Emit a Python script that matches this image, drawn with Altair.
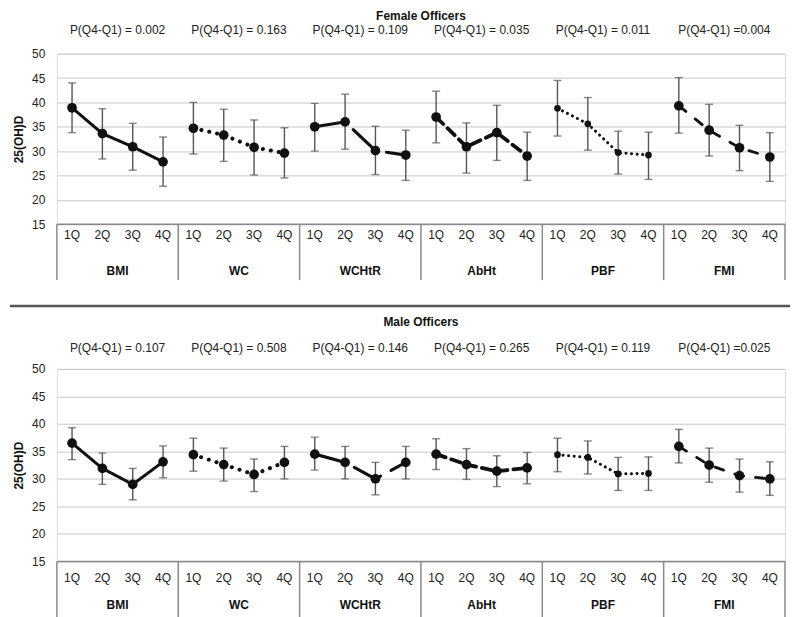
import altair as alt
import pandas as pd

groups = ["BMI", "WC", "WCHtR", "AbHt", "PBF", "FMI"]
quarters = ["1Q", "2Q", "3Q", "4Q"]

female_mean = [38.9, 33.6, 30.9, 27.8, 34.7, 33.3, 30.8, 29.6, 35.0, 36.0, 30.1, 29.2,
               37.0, 30.9, 33.8, 29.0, 38.8, 35.6, 29.7, 29.2, 39.3, 34.3, 30.7, 28.8]
female_lo = [33.8, 28.4, 26.1, 22.8, 29.4, 27.9, 25.1, 24.5, 30.0, 30.4, 25.2, 24.0,
             31.7, 25.5, 28.1, 24.0, 33.1, 30.2, 25.3, 24.2, 33.7, 29.0, 26.0, 23.8]
female_hi = [44.0, 38.7, 35.7, 32.9, 40.0, 38.6, 36.4, 34.8, 39.8, 41.7, 35.1, 34.3,
             42.3, 35.8, 39.4, 33.9, 44.5, 41.0, 34.1, 33.9, 45.1, 39.6, 35.3, 33.8]
male_mean = [36.5, 31.9, 29.0, 33.1, 34.4, 32.6, 30.8, 33.0, 34.5, 33.0, 30.0, 33.0,
             34.5, 32.6, 31.4, 32.0, 34.4, 33.9, 30.9, 31.0, 35.9, 32.5, 30.6, 30.0]
male_lo = [33.5, 29.0, 26.2, 30.2, 31.4, 29.6, 27.7, 30.0, 31.6, 30.0, 27.1, 30.0,
           31.7, 29.9, 28.6, 29.1, 31.3, 30.9, 27.9, 27.9, 32.9, 29.4, 27.6, 27.0]
male_hi = [39.3, 34.7, 31.9, 36.0, 37.4, 35.6, 33.6, 35.9, 37.6, 35.9, 33.0, 35.9,
           37.3, 35.5, 34.2, 34.8, 37.4, 36.9, 33.9, 34.0, 39.0, 35.6, 33.6, 33.1]
female_p = ["P(Q4-Q1) = 0.002", "P(Q4-Q1) = 0.163", "P(Q4-Q1) = 0.109",
            "P(Q4-Q1) = 0.035", "P(Q4-Q1) = 0.011", "P(Q4-Q1) =0.004"]
male_p = ["P(Q4-Q1) = 0.107", "P(Q4-Q1) = 0.508", "P(Q4-Q1) = 0.146",
          "P(Q4-Q1) = 0.265", "P(Q4-Q1) = 0.119", "P(Q4-Q1) =0.025"]
y_ticks = [15, 20, 25, 30, 35, 40, 45, 50]

# line style per group: (dash, stroke width, point size)
STYLES = {
    "BMI": ([1, 0], 3, 95),
    "WC": ([0.1, 8], 4, 95),
    "WCHtR": ([30, 12], 3.2, 95),
    "AbHt": ([10, 6], 3.8, 95),
    "PBF": ([0.1, 5.5], 3, 45),
    "FMI": ([9, 12], 2.8, 95),
}

FONT = "Liberation Sans"
W = 730


def panel(title, p_labels, mean, lo, hi, height, title_off, p_off, q_off, g_off,
          box_len, separator):
    rows = []
    for gi, g in enumerate(groups):
        for qi, q in enumerate(quarters):
            k = gi * 4 + qi
            rows.append({"idx": k, "group": g, "quarter": q,
                         "mean": mean[k], "lo": lo[k], "hi": hi[k]})
    df = pd.DataFrame(rows)
    gdf = pd.DataFrame({"group": groups,
                        "center": [gi * 4 + 1.5 for gi in range(len(groups))],
                        "p": p_labels})
    bdf = pd.DataFrame({"b": [gi * 4 - 0.5 for gi in range(len(groups) + 1)]})
    one = pd.DataFrame({"t": [title]})

    xs = alt.Scale(domain=[-0.5, 23.5], nice=False, zero=False)
    ys = alt.Scale(domain=[15, 50], nice=False, zero=False)
    yaxis = alt.Axis(values=y_ticks, tickCount=20, grid=True, gridColor="#c8c8c8",
                     gridWidth=1, domain=False, ticks=False, labelFontSize=12,
                     labelPadding=12, labelOverlap=False, labelColor="#222",
                     labelFont=FONT, title="25(OH)D", titleFont=FONT, titleFontSize=12,
                     titleFontWeight="bold", titleColor="#111", titlePadding=6)

    base = alt.Chart(df)
    layers = []
    layers.append(base.mark_rule(color="#555", strokeWidth=1.4).encode(
        x=alt.X("idx:Q", scale=xs, axis=None),
        y=alt.Y("lo:Q", scale=ys, axis=yaxis),
        y2="hi:Q"))
    for fld in ["lo", "hi"]:
        layers.append(base.mark_tick(orient="horizontal", size=8, thickness=1.4,
                                     color="#555").encode(
            x=alt.X("idx:Q", scale=xs, axis=None),
            y=alt.Y(f"{fld}:Q", scale=ys, axis=yaxis)))
    for g in groups:
        dash, sw, ps = STYLES[g]
        sub = alt.Chart(df[df["group"] == g])
        layers.append(sub.mark_line(color="#111", strokeWidth=sw, strokeDash=dash,
                                    strokeCap="round").encode(
            x=alt.X("idx:Q", scale=xs, axis=None),
            y=alt.Y("mean:Q", scale=ys, axis=yaxis)))
        layers.append(sub.mark_circle(color="#111", opacity=1, size=ps).encode(
            x=alt.X("idx:Q", scale=xs, axis=None),
            y=alt.Y("mean:Q", scale=ys, axis=yaxis)))
    # box below plot
    layers.append(alt.Chart(bdf).mark_rule(color="#8a8a8a", strokeWidth=1.5).encode(
        x=alt.X("b:Q", scale=xs, axis=None),
        y=alt.value(height), y2=alt.value(height + box_len)))
    layers.append(alt.Chart(one).mark_rule(color="#8a8a8a", strokeWidth=1.5).encode(
        y=alt.datum(15, scale=ys), x=alt.value(0), x2=alt.value(W)))
    layers.append(base.mark_text(font=FONT, fontSize=12, color="#222").encode(
        x=alt.X("idx:Q", scale=xs, axis=None),
        y=alt.value(height + q_off), text="quarter:N"))
    layers.append(alt.Chart(gdf).mark_text(font=FONT, fontSize=12, fontWeight="bold",
                                           color="#111").encode(
        x=alt.X("center:Q", scale=xs, axis=None),
        y=alt.value(height + g_off), text="group:N"))
    layers.append(alt.Chart(gdf).mark_text(font=FONT, fontSize=12, color="#222").encode(
        x=alt.X("center:Q", scale=xs, axis=None),
        y=alt.value(-p_off), text="p:N"))
    layers.append(alt.Chart(one).mark_text(font=FONT, fontSize=12, fontWeight="bold",
                                           color="#111").encode(
        x=alt.value(W / 2), y=alt.value(-title_off), text="t:N"))
    if separator:
        layers.append(alt.Chart(one).mark_rule(color="#555", strokeWidth=2.5).encode(
            x=alt.value(-47), x2=alt.value(W + 5), y=alt.value(-63)))
    else:
        layers.append(alt.Chart(one).mark_rule(opacity=0).encode(
            x=alt.value(-47), x2=alt.value(-46), y=alt.value(0)))
    return alt.layer(*layers).properties(width=W, height=height)


top = panel("Female Officers", female_p, female_mean, female_lo, female_hi,
            171, 38, 24, 11, 47, 56, False)
bottom = panel("Male Officers", male_p, male_mean, male_lo, male_hi,
               193, 47, 21, 17, 44, 70, True)

chart = alt.vconcat(top, bottom, spacing=22).properties(
    padding={"left": 0, "top": 0, "right": 0, "bottom": 0}
).configure_view(stroke=None).configure(font=FONT)

chart.save("out.html", embed_options={"renderer": "svg", "actions": False})
